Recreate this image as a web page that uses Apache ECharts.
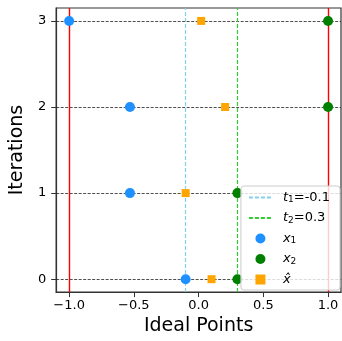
<!DOCTYPE html>
<html><head><meta charset="utf-8">
<script src="https://cdn.jsdelivr.net/npm/echarts@6/dist/echarts.min.js"></script>
<style>html,body{margin:0;padding:0;background:#fff}#c{width:342px;height:341px}</style>
</head><body><div id="c"></div>
<script>
const iterations = [0, 1, 2, 3];
const x1Values = [-0.10, -0.53, -0.53, -1.00];
const x2Values = [0.30, 0.30, 1.00, 1.00];
const xhatValues = [0.10, -0.10, 0.205, 0.02];
const t1 = -0.1;
const t2 = 0.3;
const boundaries = [-1, 1];
const xTicks = [-1.0, -0.5, 0.0, 0.5, 1.0];
const yTicks = [0, 1, 2, 3];

const FONT = 'DejaVu Sans';
const chart = echarts.init(document.getElementById('c'), null, {renderer: 'canvas'});
const pts = vals => vals.map((v, i) => [v, iterations[i]]);
const noSym = ['none', 'none'];

chart.setOption({
  animation: false,
  grid: {left: 55, right: 1, top: 8, bottom: 47, show: true, borderColor: '#333', borderWidth: 1.2, backgroundColor: 'transparent'},
  xAxis: {
    type: 'value', min: -1.1, max: 1.1,
    name: 'Ideal Points', nameLocation: 'middle', nameGap: 22,
    nameTextStyle: {fontFamily: FONT, fontSize: 19, color: '#000'},
    axisLine: {show: true, onZero: false, lineStyle: {color: '#333', width: 1.2}},
    axisTick: {show: true, length: 5, customValues: xTicks, lineStyle: {color: '#333'}},
    axisLabel: {customValues: xTicks, fontFamily: FONT, fontSize: 13, color: '#000', margin: 7,
      formatter: v => v.toFixed(1).replace('-', '\u2212')},
    splitLine: {show: false}
  },
  yAxis: {
    type: 'value', min: -0.15, max: 3.15,
    name: 'Iterations', nameLocation: 'middle', nameGap: 18, nameRotate: 90,
    nameTextStyle: {fontFamily: FONT, fontSize: 19, color: '#000'},
    axisLine: {show: true, onZero: false, lineStyle: {color: '#333', width: 1.2}},
    axisTick: {show: true, length: 5, customValues: yTicks, lineStyle: {color: '#333'}},
    axisLabel: {customValues: yTicks, fontFamily: FONT, fontSize: 13, color: '#000', margin: 10,
      formatter: v => String(v)},
    splitLine: {show: false}
  },
  legend: {
    orient: 'vertical', right: 2, top: 186, z: 20,
    data: [
      {name: 't1', itemStyle: {opacity: 0}},
      {name: 't2', itemStyle: {opacity: 0}},
      {name: 'x1'},
      {name: 'x2'},
      {name: 'xhat', icon: 'path://M0,0h10v10h-10z'}
    ],
    itemWidth: 23, itemHeight: 10, itemGap: 7,
    padding: [5, 10, 4, 7],
    backgroundColor: 'rgba(255,255,255,0.8)', borderColor: '#ccc', borderWidth: 1, borderRadius: 3,
    textStyle: {fontFamily: FONT, fontSize: 13, color: '#000', padding: [0, 0, 0, 6],
      rich: {i: {fontFamily: FONT, fontStyle: 'italic', fontSize: 13, color: '#000'},
             s: {fontFamily: FONT, fontSize: 9, color: '#000', padding: [5, 0, 0, 0]}}},
    formatter: n => ({
      t1: '{i|t}{s|1}=-0.1',
      t2: '{i|t}{s|2}=0.3',
      x1: '{i|x}{s|1}',
      x2: '{i|x}{s|2}',
      xhat: '{i|x\u0302}'
    })[n]
  },
  series: [
    {type: 'line', name: 'grid', data: [], silent: true, z: 1,
      markLine: {silent: true, symbol: noSym, label: {show: false}, animation: false,
        lineStyle: {color: '#222', type: [3, 1.5], width: 0.8},
        data: iterations.map(v => ({yAxis: v}))}},
    {type: 'line', name: 'bounds', data: [], silent: true, z: 6,
      markLine: {silent: true, symbol: noSym, label: {show: false}, animation: false,
        lineStyle: {color: '#ff0000', type: 'solid', width: 1.4},
        data: boundaries.map(v => ({xAxis: v}))}},
    {type: 'line', name: 't1', data: [], symbol: 'none', z: 6,
      lineStyle: {color: '#87ceeb', type: [4, 2], width: 1.4}, itemStyle: {color: '#87ceeb'},
      markLine: {silent: true, symbol: noSym, label: {show: false}, animation: false,
        lineStyle: {color: '#87ceeb', type: [4, 2], width: 1.2},
        data: [{xAxis: t1}]}},
    {type: 'line', name: 't2', data: [], symbol: 'none', z: 6,
      lineStyle: {color: '#32cd32', type: [4, 2], width: 1.4}, itemStyle: {color: '#32cd32'},
      markLine: {silent: true, symbol: noSym, label: {show: false}, animation: false,
        lineStyle: {color: '#32cd32', type: [4, 2], width: 1.2},
        data: [{xAxis: t2}]}},
    {type: 'scatter', name: 'x1', data: pts(x1Values), symbol: 'circle', symbolSize: 10, z: 5,
      itemStyle: {color: '#1e90ff', opacity: 1}},
    {type: 'scatter', name: 'x2', data: pts(x2Values), symbol: 'circle', symbolSize: 10, z: 5,
      itemStyle: {color: '#008000', opacity: 1}},
    {type: 'scatter', name: 'xhat', data: pts(xhatValues), symbol: 'rect', symbolSize: 8, z: 5,
      itemStyle: {color: '#ffa500', opacity: 1}}
  ]
});
</script>
</body></html>
